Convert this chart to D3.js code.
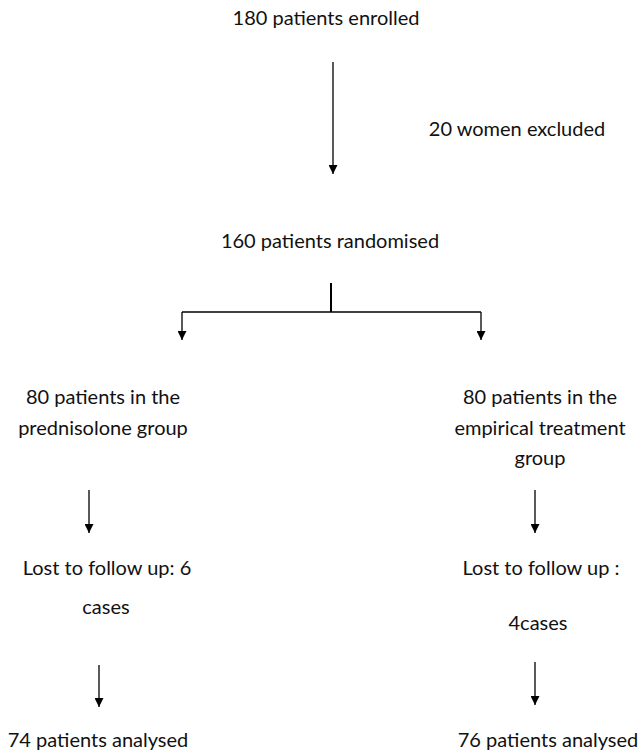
<!DOCTYPE html>
<html>
  <head>
    <meta charset="utf-8">
    <title>Patient flow</title>
    <script src="https://d3js.org/d3.v7.min.js"></script>
    <style>
      body { margin: 0; background: #fff; }
      text { font-family: Lato, "Open Sans", sans-serif; font-size: 20px; fill: #111; }
    </style>
  </head>
  <body>
    <svg id="chart" width="639" height="750"></svg>
    <script>
      // labels of the flow, top to bottom
      let enrolled = ["180 patients enrolled"];
      let excluded = ["20 women excluded"];
      let randomised = ["160 patients randomised"];
      let groupLeft = ["80 patients in the", "prednisolone group"];
      let groupRight = ["80 patients in the", "empirical treatment", "group"];
      let lostLeft = ["Lost to follow up: 6", "cases"];
      let lostRight = ["Lost to follow up :", "4cases"];
      let analysedLeft = ["74 patients analysed"];
      let analysedRight = ["76 patients analysed"];

      let svg = d3.select("#chart");

      svg.append("defs").append("marker")
          .attr("id", "head")
          .attr("viewBox", "0 0 10 10")
          .attr("refX", 10)
          .attr("refY", 5)
          .attr("markerWidth", 9)
          .attr("markerHeight", 9)
          .attr("markerUnits", "userSpaceOnUse")
          .attr("orient", "auto")
        .append("path")
          .attr("d", "M0,0 L10,5 L0,10 Z")
          .attr("fill", "#000");

      // text blocks: [lines, centre x, first baseline, line gap]
      let blocks = [
        [enrolled, 326, 25, 30],
        [excluded, 517, 136, 30],
        [randomised, 330, 248, 30],
        [groupLeft, 103, 404, 30.5],
        [groupRight, 540, 404, 30.5],
        [[lostLeft[0]], 107, 575, 0],
        [[lostLeft[1]], 106, 614, 0],
        [[lostRight[0]], 541, 575, 0],
        [[lostRight[1]], 538, 630, 0],
        [analysedLeft, 98, 747, 0],
        [analysedRight, 548, 747, 0]
      ];

      blocks.forEach(function(b) {
        svg.append("text")
            .attr("text-anchor", "middle")
          .selectAll("tspan")
            .data(b[0])
          .enter().append("tspan")
            .attr("x", b[1])
            .attr("y", function(d, i) { return b[2] + i * b[3]; })
            .text(function(d) { return d; });
      });

      let line = d3.line();
      // arrows: list of points
      let arrows = [
        [[333, 62], [333, 174]],
        [[182, 312], [182, 340]],
        [[481, 312], [481, 340]],
        [[89, 490], [89, 533]],
        [[535, 490], [535, 533]],
        [[99, 665], [99, 707]],
        [[535, 662], [535, 705]]
      ];
      svg.selectAll(".arrow")
          .data(arrows)
        .enter().append("path")
          .classed("arrow", true)
          .attr("d", line)
          .attr("fill", "none")
          .attr("stroke", "#000")
          .attr("stroke-width", 1.3)
          .attr("marker-end", "url(#head)");

      // branch
      svg.append("path")
          .attr("d", line([[331, 283], [331, 312]]))
          .attr("stroke", "#000")
          .attr("stroke-width", 2);
      svg.append("path")
          .attr("d", line([[182, 312], [481, 312]]))
          .attr("stroke", "#000")
          .attr("stroke-width", 1.3);
    </script>
  </body>
</html>
